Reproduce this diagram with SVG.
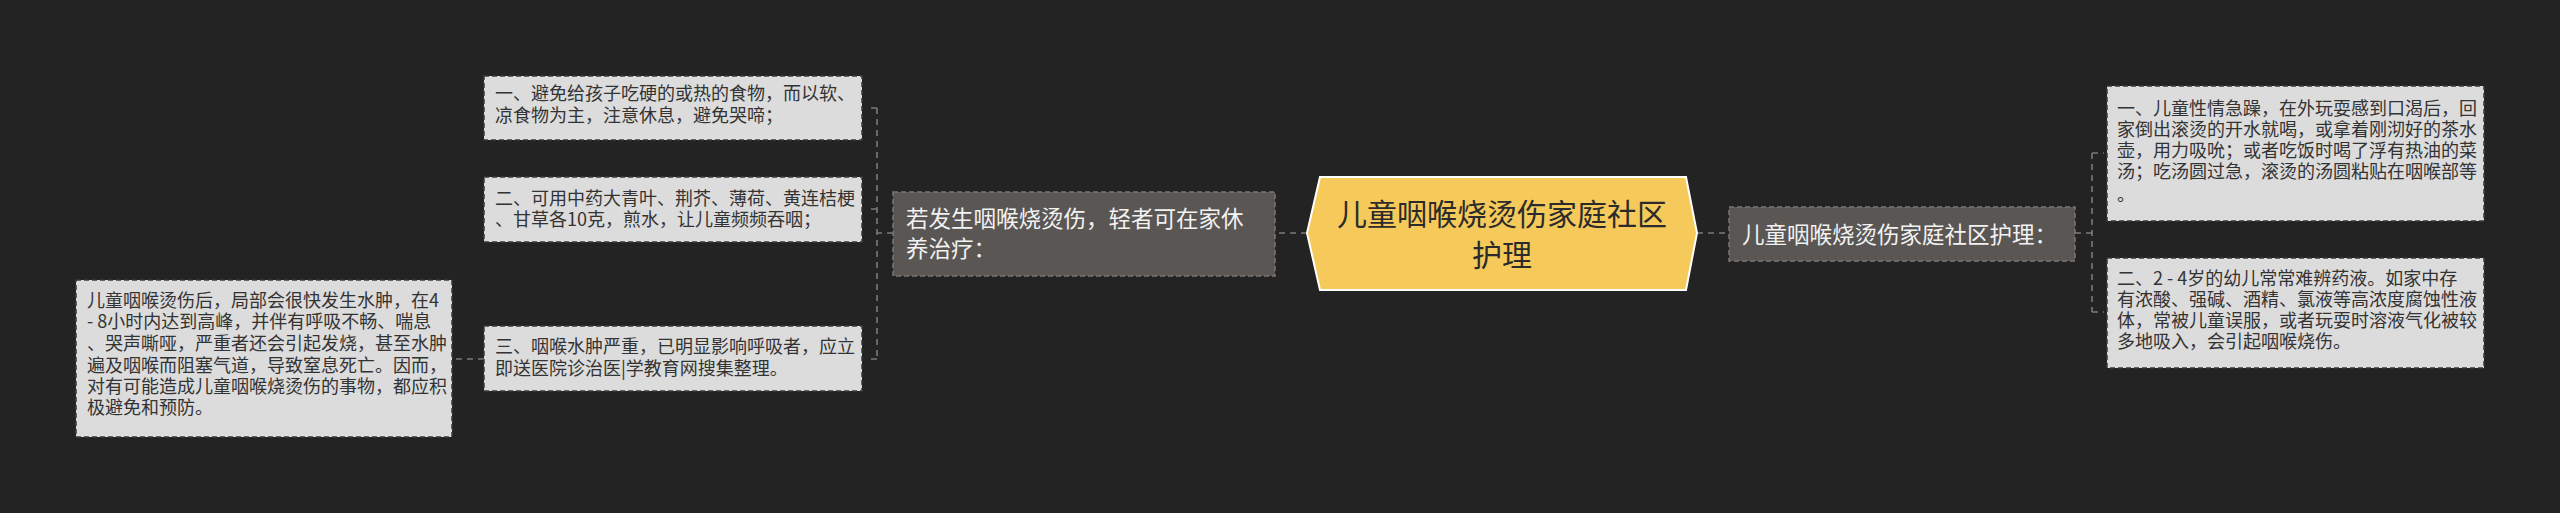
<svg xmlns="http://www.w3.org/2000/svg" width="2560" height="513" viewBox="0 0 2560 513">
<style>
.leaf rect{fill:#dcdcdc;stroke:#3a3a3a;stroke-width:1.5;stroke-dasharray:5 3}
.leaf text{font-family:"Noto Sans CJK SC","Liberation Sans",sans-serif;font-size:18px;fill:#333333}
.branch rect{fill:#5a5654;stroke:#7a7774;stroke-width:1.5;stroke-dasharray:5 3}
.branch text{font-family:"Noto Sans CJK SC","Liberation Sans",sans-serif;font-size:22.5px;fill:#f2f2f2}
.root text{font-family:"Noto Sans CJK SC","Liberation Sans",sans-serif;font-size:30px;fill:#2b2b2b}
#connectors path{fill:none;stroke:#7a7a7a;stroke-width:1.6;stroke-dasharray:6 5}
</style>
<rect width="2560" height="513" fill="#232323"/>
<g id="connectors">
<path d="M1307 233 H1275"/>
<path d="M1697 233 H1729"/>
<path d="M893 233 H877 M877 108 V359 M877 108 H866 M877 209 H866 M877 359 H866"/>
<path d="M484 359 H452"/>
<path d="M2075 233 H2092 M2092 153 V312 M2092 153 H2104 M2092 312 H2104"/>
</g>
<g id="root" class="root">
<polygon points="1320,177 1686,177 1697,233 1686,290 1320,290 1307,233" fill="#f5c95a" stroke="#ffffff" stroke-width="2"/>
<text x="1502" y="225" text-anchor="middle">儿童咽喉烧烫伤家庭社区</text>
<text x="1502" y="266" text-anchor="middle">护理</text>
</g>
<g id="branch-left" class="branch">
<rect x="893" y="192" width="382" height="84"/>
<text x="906" y="227">若发生咽喉烧烫伤，轻者可在家休</text>
<text x="906" y="257">养治疗：</text>
</g>
<g id="branch-right" class="branch">
<rect x="1729" y="207" width="346" height="54"/>
<text x="1742" y="243">儿童咽喉烧烫伤家庭社区护理：</text>
</g>
<g id="leaf-l1" class="leaf">
<rect x="484" y="76" width="378" height="64"/>
<text x="495" y="100">一、避免给孩子吃硬的或热的食物，而以软、</text>
<text x="495" y="122">凉食物为主，注意休息，避免哭啼；</text>
</g>
<g id="leaf-l2" class="leaf">
<rect x="484" y="177" width="378" height="65"/>
<text x="495" y="205">二、可用中药大青叶、荆芥、薄荷、黄连桔梗</text>
<text x="495" y="226">、甘草各10克，煎水，让儿童频频吞咽；</text>
</g>
<g id="leaf-l3" class="leaf">
<rect x="484" y="326" width="378" height="65"/>
<text x="495" y="353">三、咽喉水肿严重，已明显影响呼吸者，应立</text>
<text x="495" y="375">即送医院诊治医|学教育网搜集整理。</text>
</g>
<g id="leaf-l3a" class="leaf">
<rect x="76" y="280" width="376" height="157"/>
<text x="87" y="307">儿童咽喉烫伤后，局部会很快发生水肿，在4</text>
<text x="87" y="328"> - 8小时内达到高峰，并伴有呼吸不畅、喘息</text>
<text x="87" y="350">、哭声嘶哑，严重者还会引起发烧，甚至水肿</text>
<text x="87" y="372">遍及咽喉而阻塞气道，导致窒息死亡。因而，</text>
<text x="87" y="393">对有可能造成儿童咽喉烧烫伤的事物，都应积</text>
<text x="87" y="414">极避免和预防。</text>
</g>
<g id="leaf-r1" class="leaf">
<rect x="2107" y="86" width="377" height="135"/>
<text x="2117" y="115">一、儿童性情急躁，在外玩耍感到口渴后，回</text>
<text x="2117" y="136">家倒出滚烫的开水就喝，或拿着刚沏好的茶水</text>
<text x="2117" y="157">壶，用力吸吮；或者吃饭时喝了浮有热油的菜</text>
<text x="2117" y="178">汤；吃汤圆过急，滚烫的汤圆粘贴在咽喉部等</text>
<text x="2117" y="201">。</text>
</g>
<g id="leaf-r2" class="leaf">
<rect x="2107" y="258" width="377" height="110"/>
<text x="2117" y="285">二、2 - 4岁的幼儿常常难辨药液。如家中存</text>
<text x="2117" y="306">有浓酸、强碱、酒精、氯液等高浓度腐蚀性液</text>
<text x="2117" y="327">体，常被儿童误服，或者玩耍时溶液气化被较</text>
<text x="2117" y="348">多地吸入，会引起咽喉烧伤。</text>
</g>
</svg>
